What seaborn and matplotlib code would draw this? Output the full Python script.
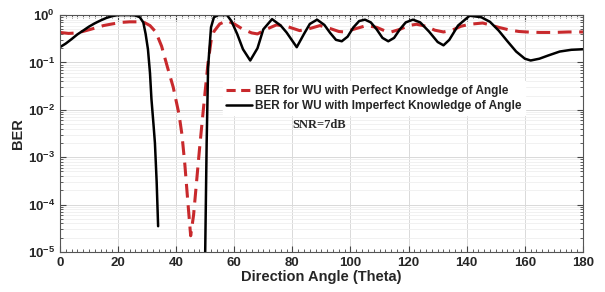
import matplotlib
matplotlib.use("Agg")
import matplotlib.pyplot as plt
from matplotlib.lines import Line2D
from matplotlib.ticker import MultipleLocator, LogLocator, NullFormatter
import seaborn as sns

# Perfect knowledge of angle (red dashed)
perfect_x = [0, 3, 6, 9, 12, 15, 18, 21, 24, 27, 29, 31, 33, 35, 37, 39, 41, 42, 43, 44, 45, 46, 47,
             48, 49, 50, 51, 52, 53, 55, 57.5, 60, 63, 66, 68, 71, 74.5, 78, 82.5, 86, 89.5, 93, 96, 98,
             101, 105.5, 109, 112, 114, 117, 120, 122.7, 126, 129, 132, 135, 138, 141, 145.5, 148, 151,
             155, 158, 160.6, 165, 170, 175, 180]
perfect_y = [0.43, 0.41, 0.42, 0.47, 0.53, 0.6, 0.65, 0.7, 0.72, 0.72, 0.7, 0.6, 0.44, 0.22, 0.08, 0.03,
             0.008, 3e-3, 7e-4, 1.2e-4, 2.2e-5, 6e-5, 2.9e-4, 1.4e-3, 6e-3, 0.025, 0.1, 0.28, 0.45, 0.65,
             0.76, 0.65, 0.5, 0.42, 0.4, 0.5, 0.62, 0.58, 0.47, 0.52, 0.6, 0.52, 0.45, 0.44, 0.5, 0.6, 0.55,
             0.46, 0.44, 0.5, 0.6, 0.64, 0.58, 0.48, 0.44, 0.48, 0.58, 0.64, 0.68, 0.62, 0.55, 0.48, 0.45,
             0.44, 0.43, 0.43, 0.44, 0.44]

# Imperfect knowledge of angle (black solid), two pieces
imperfect_left_x = [0, 2, 4, 6, 8, 10, 12, 14, 16, 18, 20, 22, 24, 26, 27.5, 28.7, 29.5, 30.3, 31,
                    31.5, 32.2, 32.7, 33.3, 33.8]
imperfect_left_y = [0.21, 0.25, 0.31, 0.39, 0.47, 0.57, 0.67, 0.77, 0.87, 0.95, 1.0, 1.0, 1.0, 0.98,
                    0.9, 0.7, 0.4, 0.19, 0.06, 0.017, 5e-3, 2e-3, 3e-4, 3.5e-5]
imperfect_right_x = [50, 50.5, 51, 52, 53, 54.5, 56, 57.5, 59, 61, 63, 65.5, 68, 70, 73, 76, 78, 81.5,
                     84, 86, 88.5, 91, 93, 95, 97, 99, 101, 103, 105, 107, 109, 111, 113, 115, 117, 119,
                     121.5, 124, 127, 130, 132, 134, 137, 141, 145, 148, 151, 154, 157, 160, 162, 165,
                     168, 172, 176, 180]
imperfect_right_y = [1e-5, 2e-3, 0.08, 0.55, 0.9, 1.0, 1.0, 1.0, 0.75, 0.4, 0.19, 0.11, 0.2, 0.5, 0.82,
                     0.6, 0.43, 0.21, 0.4, 0.65, 0.8, 0.62, 0.42, 0.3, 0.28, 0.35, 0.55, 0.75, 0.8, 0.7,
                     0.5, 0.33, 0.28, 0.33, 0.5, 0.7, 0.8, 0.7, 0.45, 0.27, 0.23, 0.3, 0.6, 0.97, 0.9,
                     0.72, 0.47, 0.28, 0.17, 0.12, 0.11, 0.12, 0.14, 0.17, 0.185, 0.19]

labels = ["BER for WU with Perfect Knowledge of Angle", "BER for WU with Imperfect Knowledge of Angle"]

sns.set_style("ticks")
plt.rcParams['font.family'] = ['Liberation Sans', 'DejaVu Sans']
plt.rcParams['font.weight'] = 'bold'
plt.rcParams['mathtext.fontset'] = 'custom'
plt.rcParams['mathtext.bf'] = 'Liberation Sans:bold'
plt.rcParams['mathtext.rm'] = 'Liberation Sans:bold'
plt.rcParams['mathtext.default'] = 'bf'

red = "#c8292c"

fig = plt.figure(figsize=(6.05, 2.92), dpi=100)
ax = fig.add_axes([0.099, 0.137, 0.8646, 0.8114])

sns.lineplot(x=perfect_x, y=perfect_y, ax=ax, color=red, linewidth=2.2, dashes=False)
ax.lines[-1].set_dashes((4.5, 2.5))
sns.lineplot(x=imperfect_left_x, y=imperfect_left_y, ax=ax, color="black", linewidth=1.8)
sns.lineplot(x=imperfect_right_x, y=imperfect_right_y, ax=ax, color="black", linewidth=1.8)

ax.set_yscale("log")
ax.set_xlim(0, 180)
ax.set_ylim(1e-5, 1)
ax.xaxis.set_major_locator(MultipleLocator(20))
ax.xaxis.set_minor_locator(MultipleLocator(2))
ax.yaxis.set_major_locator(LogLocator(base=10, numticks=10))
ax.yaxis.set_minor_locator(LogLocator(base=10, subs=range(2, 10), numticks=20))
ax.yaxis.set_minor_formatter(NullFormatter())
ax.grid(True, which="major", color="#d9d9d9", linewidth=0.7)
ax.grid(True, which="minor", axis="y", color="#efefef", linewidth=0.6)
ax.tick_params(which="both", direction="in", top=True, right=True, labelsize=9.5, color="#444444")
ax.tick_params(which="major", length=4)
ax.tick_params(which="minor", length=2)
for s in ax.spines.values():
    s.set_color("#555555")
    s.set_linewidth(0.8)

ax.set_xlabel("Direction Angle (Theta)", fontsize=10.5, fontweight="bold", labelpad=1)
ax.set_ylabel("BER", fontsize=10.5, fontweight="bold", labelpad=2)

handles = [Line2D([], [], color=red, linewidth=2.2, dashes=(3, 1.8)),
           Line2D([], [], color="black", linewidth=1.8)]
leg = ax.legend(handles, labels, loc="upper left", bbox_to_anchor=(0.3, 0.745), frameon=True,
                fontsize=8.5, handlelength=2.2, handletextpad=0.2, borderpad=0.3,
                labelspacing=0.25, fancybox=False)
leg.get_frame().set_edgecolor("white")
leg.get_frame().set_alpha(1)
for t in leg.get_texts():
    t.set_fontweight("bold")

ax.text(0.444, 0.536, "SNR=7dB", transform=ax.transAxes, fontsize=9, fontweight="bold",
        family="Liberation Serif", va="center", ha="left")

fig.savefig("out.png", dpi=100, facecolor="white")
